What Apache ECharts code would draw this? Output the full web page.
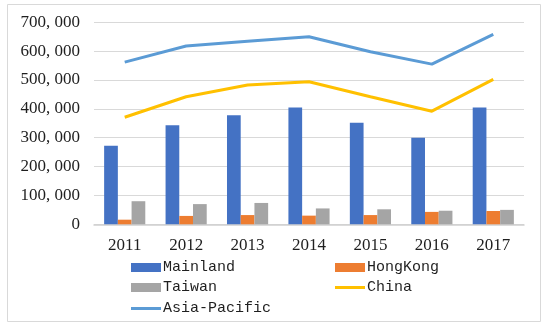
<!DOCTYPE html>
<html>
<head>
<meta charset="utf-8">
<script src="https://cdn.jsdelivr.net/npm/echarts@6/dist/echarts.min.js"></script>
<style>
  html, body { margin: 0; padding: 0; background: #fff; }
  #chart { width: 550px; height: 330px; }
</style>
</head>
<body>
<div id="chart"></div>
<script>
// Years on the category axis
const years = ['2011', '2012', '2013', '2014', '2015', '2016', '2017'];

// Bar series
const mainland = [272000, 343000, 378000, 405000, 352000, 300000, 405000];
const hongKong = [16000, 29000, 32000, 30000, 32000, 43000, 46000];
const taiwan   = [80000, 70000, 74000, 55000, 52000, 47000, 50000];

// Line series
const china       = [371000, 442000, 483000, 494000, 442000, 392000, 502000];
const asiaPacific = [562000, 618000, 634000, 650000, 598000, 555000, 658000];

// Value-axis range
const yMin = 0;
const yMax = 700000;
const yStep = 100000;

const textColor = '#1f1f1f';
const serif = '"Liberation Serif", "DejaVu Serif", serif';
const mono = '"Liberation Mono", "DejaVu Sans Mono", monospace';

function thousands(v) {
  if (v === 0) return '0';
  const k = Math.floor(v / 1000);
  const r = String(v % 1000).padStart(3, '0');
  return k + ', ' + r;
}

function legendAt(name, left, top, icon, w, h) {
  return {
    data: [name],
    left: left,
    top: top,
    icon: icon,
    itemWidth: w,
    itemHeight: h,
    itemGap: 0,
    padding: 0,
    textStyle: { fontFamily: mono, fontSize: 15, color: textColor, padding: [0, 0, 0, -3] }
  };
}

const chart = echarts.init(document.getElementById('chart'), null, { renderer: 'canvas' });

chart.setOption({
  animation: false,
  backgroundColor: '#fff',
  graphic: [{
    type: 'rect',
    shape: { x: 7.5, y: 4.5, width: 533, height: 317 },
    style: { fill: 'none', stroke: '#d9d9d9', lineWidth: 1 },
    silent: true
  }],
  grid: { left: 94, right: 26, top: 22.3, bottom: 105.7, containLabel: false },
  legend: [
    legendAt('Mainland', 131, 260, 'rect', 30, 9),
    legendAt('HongKong', 335, 260, 'rect', 30, 9),
    legendAt('Taiwan', 131, 280, 'rect', 30, 9),
    legendAt('China', 335, 280, 'rect', 30, 3),
    legendAt('Asia-Pacific', 131, 301, 'rect', 30, 3)
  ],
  xAxis: {
    type: 'category',
    data: years,
    axisLine: { show: true, lineStyle: { color: '#d0d0d0', width: 1.5 } },
    axisTick: { show: false },
    axisLabel: { fontFamily: serif, fontSize: 17, color: textColor, margin: 13 }
  },
  yAxis: {
    type: 'value',
    min: yMin,
    max: yMax,
    interval: yStep,
    axisLine: { show: false },
    axisTick: { show: false },
    splitLine: { lineStyle: { color: '#d9d9d9', width: 1 } },
    axisLabel: { fontFamily: serif, fontSize: 17, color: textColor, margin: 14, formatter: thousands }
  },
  series: [
    { name: 'Mainland', type: 'bar', data: mainland, barGap: '0%', barCategoryGap: '33%',
      itemStyle: { color: '#4472C4' } },
    { name: 'HongKong', type: 'bar', data: hongKong, barGap: '0%', barCategoryGap: '33%',
      itemStyle: { color: '#ED7D31' } },
    { name: 'Taiwan', type: 'bar', data: taiwan, barGap: '0%', barCategoryGap: '33%',
      itemStyle: { color: '#A5A5A5' } },
    { name: 'China', type: 'line', data: china, showSymbol: false, symbol: 'none',
      lineStyle: { color: '#FFC000', width: 3 }, itemStyle: { color: '#FFC000' } },
    { name: 'Asia-Pacific', type: 'line', data: asiaPacific, showSymbol: false, symbol: 'none',
      lineStyle: { color: '#5B9BD5', width: 3 }, itemStyle: { color: '#5B9BD5' } }
  ]
});
</script>
</body>
</html>
